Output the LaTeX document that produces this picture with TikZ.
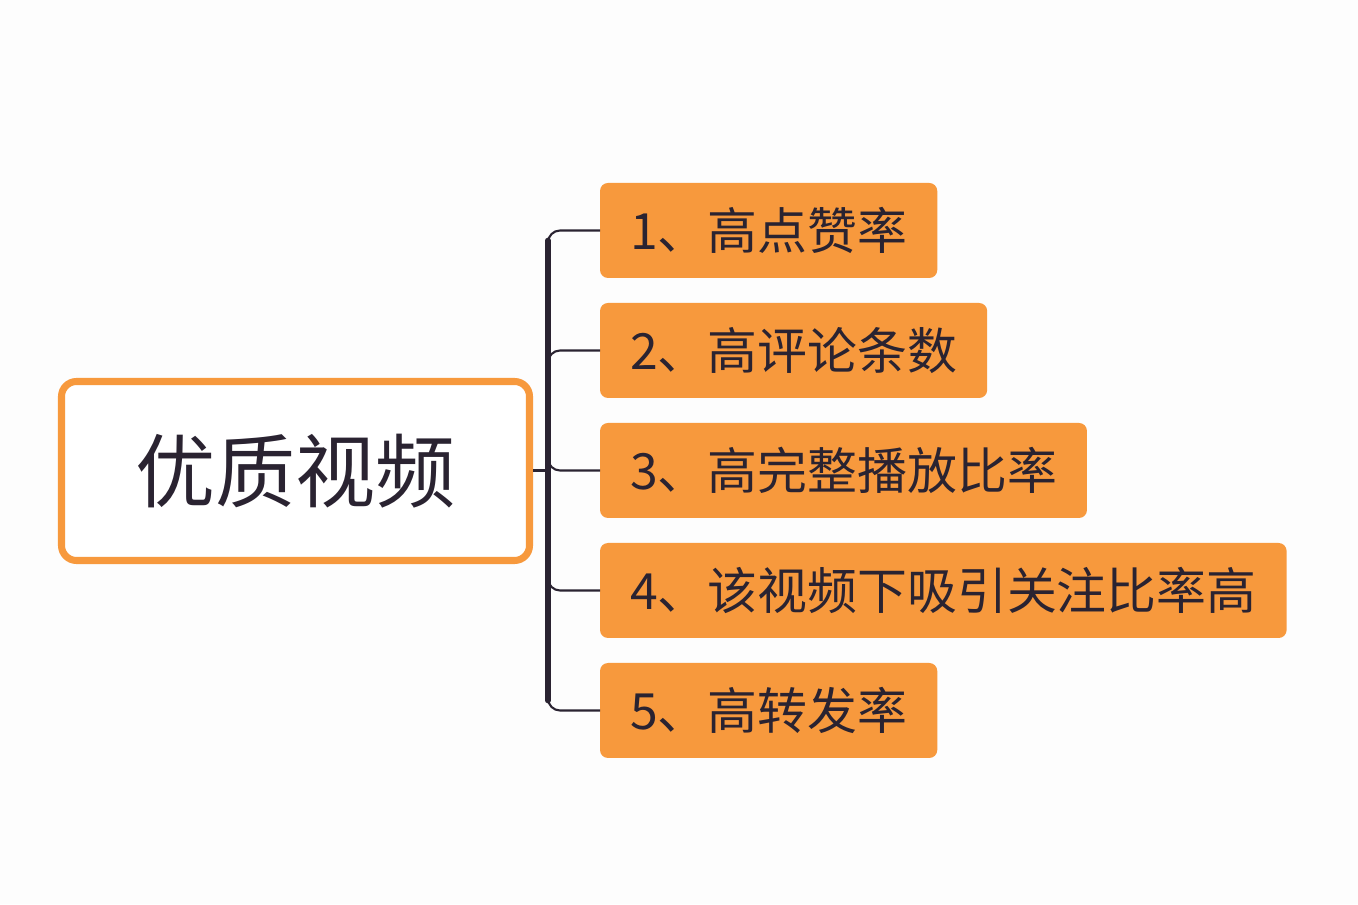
\documentclass[tikz,border=0pt]{standalone}
\usepackage{fontspec}
\newfontfamily\cjk{Noto Sans CJK SC}
\usetikzlibrary{positioning,calc}
\definecolor{boxorange}{HTML}{F7993D}
\definecolor{inkdark}{HTML}{2A2331}
\definecolor{paper}{HTML}{FDFDFD}

\begin{document}
\begin{tikzpicture}[
					root/.style={rectangle,draw=boxorange,line width=2pt,rounded corners=0.15cm,fill=white,
						minimum width=4.68cm,minimum height=1.79cm,font=\cjk\fontsize{22.8pt}{26pt}\selectfont,text=inkdark},
					item/.style={rectangle,fill=boxorange,rounded corners=0.08cm,minimum height=0.95cm,outer sep=0pt,
						inner xsep=0.3cm,font=\cjk\fontsize{14.2pt}{17pt}\selectfont,text=inkdark},
					branch/.style={draw=inkdark,line width=0.6pt,rounded corners=0.12cm},
					trunk/.style={draw=inkdark,line width=1.6pt,line cap=round},
					]
					\fill[paper] (0,0) rectangle (13.58,9.04);
					\useasboundingbox (0,0) rectangle (13.58,9.04);
					\node [root] (root) at (2.955,4.33) {优质视频};
					\node [item,anchor=west] (b1) at (6.0,6.735) {1、高点赞率};
					\node [item,below=0.25cm of b1.south west,anchor=north west] (b2) {2、高评论条数};
					\node [item,below=0.25cm of b2.south west,anchor=north west] (b3) {3、高完整播放比率};
					\node [item,below=0.25cm of b3.south west,anchor=north west] (b4) {4、该视频下吸引关注比率高};
					\node [item,below=0.25cm of b4.south west,anchor=north west] (b5) {5、高转发率};
					\coordinate (fork) at ($(root.east|-b3.west)+(0.15,0)$);
					\draw[branch] (root.east|-b3.west) -- (fork);
					\foreach \i in {1,...,5}
						\draw[branch] (fork) |- (b\i.west);
					\draw[trunk] ($(fork|-b1.west)+(0,-0.1)$) -- ($(fork|-b5.west)+(0,0.1)$);
				\end{tikzpicture}
\end{document}
